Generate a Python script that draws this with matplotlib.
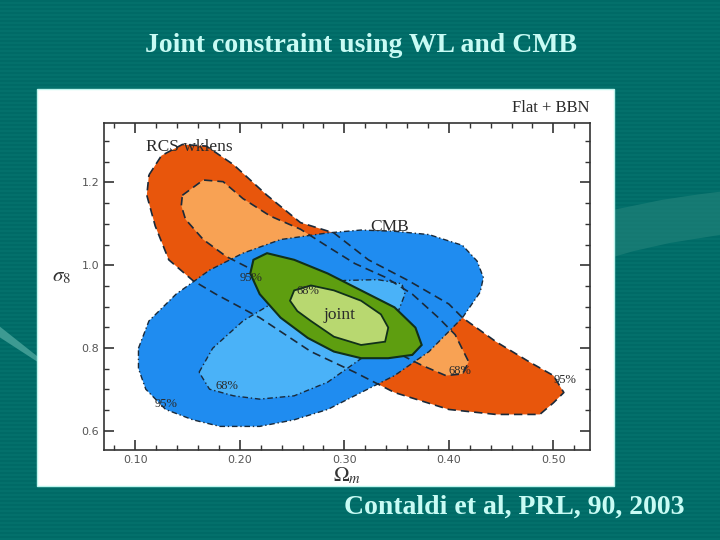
import numpy as np
import matplotlib
matplotlib.use("Agg")
import matplotlib.pyplot as plt
from matplotlib.patches import Rectangle, Polygon

plt.rcParams["mathtext.fontset"] = "stix"

# contour outlines (Omega_m, sigma_8)
rcs95_x = [0.113, 0.125, 0.145, 0.168, 0.194, 0.226, 0.258, 0.290, 0.323, 0.361, 0.400, 0.413,
           0.445, 0.477, 0.500, 0.510, 0.500, 0.487, 0.445, 0.400, 0.348, 0.310, 0.268, 0.219,
           0.177, 0.155, 0.132, 0.119, 0.111]
rcs95_y = [1.218, 1.265, 1.292, 1.288, 1.243, 1.169, 1.103, 1.078, 1.013, 0.963, 0.906, 0.873,
           0.815, 0.766, 0.733, 0.692, 0.667, 0.639, 0.639, 0.651, 0.692, 0.741, 0.791, 0.873,
           0.930, 0.963, 1.013, 1.095, 1.169]
rcs68_x = [0.145, 0.165, 0.184, 0.203, 0.229, 0.258, 0.284, 0.310, 0.339, 0.365, 0.390, 0.406,
           0.419, 0.413, 0.397, 0.374, 0.348, 0.316, 0.284, 0.252, 0.219, 0.187, 0.165, 0.148, 0.144]
rcs68_y = [1.169, 1.206, 1.202, 1.161, 1.119, 1.087, 1.045, 1.004, 0.971, 0.930, 0.873, 0.832,
           0.766, 0.737, 0.733, 0.758, 0.791, 0.840, 0.889, 0.939, 0.980, 1.021, 1.062, 1.111, 1.144]
cmb95_x = [0.103, 0.113, 0.139, 0.171, 0.203, 0.239, 0.284, 0.316, 0.348, 0.381, 0.413, 0.427,
           0.433, 0.430, 0.413, 0.381, 0.348, 0.316, 0.284, 0.252, 0.219, 0.181, 0.155, 0.129,
           0.110, 0.103]
cmb95_y = [0.799, 0.865, 0.930, 0.988, 1.029, 1.062, 1.078, 1.085, 1.082, 1.074, 1.048, 1.010,
           0.970, 0.935, 0.873, 0.791, 0.733, 0.692, 0.651, 0.626, 0.610, 0.610, 0.626, 0.651,
           0.700, 0.750]
cmb68_x = [0.161, 0.174, 0.203, 0.235, 0.268, 0.300, 0.332, 0.355, 0.358, 0.348, 0.332, 0.316,
           0.284, 0.252, 0.219, 0.194, 0.171]
cmb68_y = [0.741, 0.799, 0.865, 0.914, 0.947, 0.963, 0.965, 0.955, 0.930, 0.865, 0.815, 0.774,
           0.717, 0.684, 0.676, 0.684, 0.700]
joint95_x = [0.210, 0.213, 0.226, 0.252, 0.284, 0.316, 0.348, 0.368, 0.374, 0.365, 0.342, 0.316,
             0.290, 0.265, 0.239, 0.219]
joint95_y = [0.980, 1.013, 1.029, 1.013, 0.980, 0.939, 0.898, 0.849, 0.807, 0.783, 0.775, 0.775,
             0.791, 0.824, 0.873, 0.930]
joint68_x = [0.248, 0.252, 0.268, 0.290, 0.316, 0.335, 0.342, 0.339, 0.316, 0.290, 0.268, 0.255]
joint68_y = [0.914, 0.939, 0.951, 0.939, 0.914, 0.881, 0.849, 0.815, 0.807, 0.827, 0.865, 0.889]

x_ticks = [0.10, 0.20, 0.30, 0.40, 0.50]
y_ticks = [0.6, 0.8, 1.0, 1.2]

teal = "#006a66"
txt_col = "#c8fbf4"

fig = plt.figure(figsize=(7.2, 5.4), dpi=100)
fig.patch.set_facecolor(teal)

# striped slide background, decorations and the white picture panel
bg = fig.add_axes([0, 0, 1, 1], zorder=-1)
stripes = np.tile((np.arange(540) // 2 % 2)[:, None], (1, 4))
bg.imshow(stripes, cmap=matplotlib.colors.ListedColormap(["#006a66", "#03706b"]),
          aspect="auto", extent=[0, 1, 0, 1], interpolation="nearest")
bg.add_patch(Polygon([[0.854, 0.612], [0.92, 0.63], [0.97, 0.64], [1.0, 0.645], [1.0, 0.565],
                      [0.93, 0.55], [0.88, 0.535], [0.854, 0.525]],
                     closed=True, facecolor="#1f8078", edgecolor="none", alpha=0.7))
bg.add_patch(Polygon([[0.0, 0.395], [0.052, 0.34], [0.052, 0.33], [0.0, 0.375]],
                     closed=True, facecolor="#3d9a92", edgecolor="none"))
bg.add_patch(Rectangle((0.0514, 0.100), 0.801, 0.735, facecolor="white",
                       edgecolor="#bff5ee", lw=1))
bg.set_xlim(0, 1)
bg.set_ylim(0, 1)
bg.axis("off")

fig.text(0.502, 0.915, "Joint constraint using WL and CMB", ha="center", va="center",
         fontsize=20, fontweight="bold", color=txt_col, family="Liberation Serif")
fig.text(0.478, 0.061, "Contaldi et al, PRL, 90, 2003", ha="left", va="center",
         fontsize=20, fontweight="bold", color=txt_col, family="Liberation Serif")

ax = fig.add_axes([0.1444, 0.1667, 0.675, 0.6056])
ax.set_facecolor("white")

ax.fill(rcs95_x, rcs95_y, color="#e8560c", lw=0, zorder=1)
ax.fill(rcs68_x, rcs68_y, color="#f8a254", lw=0, zorder=2)
ax.fill(cmb95_x, cmb95_y, color="#1f8cf0", lw=0, zorder=3)
ax.fill(cmb68_x, cmb68_y, color="#4ab2f8", lw=0, zorder=4)
for xs, ys in [(rcs95_x, rcs95_y), (rcs68_x, rcs68_y)]:
    ax.plot(xs + xs[:1], ys + ys[:1], color="#1a2a3a", ls=(0, (5, 3)), lw=1.2, zorder=5)
for xs, ys in [(cmb95_x, cmb95_y), (cmb68_x, cmb68_y)]:
    ax.plot(xs + xs[:1], ys + ys[:1], color="#1a2a3a", ls=(0, (4, 2, 1, 2)), lw=1.0, zorder=5)
ax.fill(joint95_x, joint95_y, facecolor="#5e9e10", edgecolor="#10301a", lw=1.5, zorder=6)
ax.fill(joint68_x, joint68_y, facecolor="#b8d870", edgecolor="#10301a", lw=1.3, zorder=7)

lab = dict(family="Liberation Serif", color="#2a2a2a", zorder=8)
ax.text(0.110, 1.275, "RCS wklens", fontsize=12.5, **lab)
ax.text(0.325, 1.083, "CMB", fontsize=12.5, **lab)
ax.text(0.280, 0.870, "joint", fontsize=12.5, **lab)
ax.text(0.200, 0.962, "95%", fontsize=9, **lab)
ax.text(0.254, 0.930, "68%", fontsize=9, **lab)
ax.text(0.400, 0.736, "68%", fontsize=9, **lab)
ax.text(0.500, 0.716, "95%", fontsize=9, **lab)
ax.text(0.177, 0.700, "68%", fontsize=9, **lab)
ax.text(0.118, 0.658, "95%", fontsize=9, **lab)
ax.text(0.535, 1.36, "Flat + BBN", ha="right", va="bottom", fontsize=12, **lab)

ax.set_xlim(0.07, 0.535)
ax.set_ylim(0.553, 1.344)
ax.set_xticks(x_ticks)
ax.set_xticklabels(["%.2f" % v for v in x_ticks])
ax.set_yticks(y_ticks)
ax.set_yticklabels(["%.1f" % v for v in y_ticks])
ax.set_xticks(np.arange(0.08, 0.535, 0.02), minor=True)
ax.set_yticks(np.arange(0.6, 1.344, 0.05), minor=True)
ax.tick_params(which="both", direction="in", top=True, right=True, color="#333333",
               labelsize=8, labelcolor="#555555")
ax.tick_params(which="major", length=7, width=1.2)
ax.tick_params(which="minor", length=3.5, width=1)
for s in ax.spines.values():
    s.set_color("#333333")
    s.set_linewidth(1.2)
ax.set_xlabel(r"$\Omega_m$", fontsize=15, color="#333333", labelpad=0)
ax.set_ylabel(r"$\sigma_8$", fontsize=15, color="#333333", rotation=0, labelpad=14)

fig.savefig("out.png", dpi=100, facecolor=teal)
